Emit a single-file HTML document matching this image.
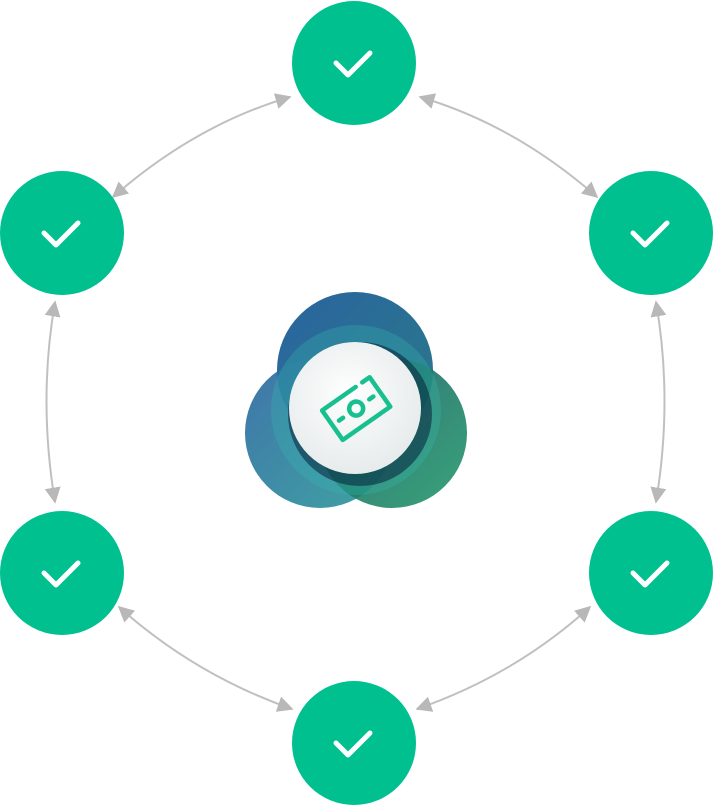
<!DOCTYPE html>
<html><head><style>html,body{margin:0;padding:0;background:#fff}svg{display:block}</style></head>
<body>
<svg width="713" height="805" viewBox="0 0 713 805" xmlns="http://www.w3.org/2000/svg">
<defs>
<marker id="m" viewBox="0 0 10 10" refX="9" refY="5" markerWidth="16" markerHeight="16" markerUnits="userSpaceOnUse" orient="auto-start-reverse">
<path d="M0,0 L10,5 L0,10 z" fill="#b8b8b8"/></marker>
<linearGradient id="g1" x1="0" y1="0" x2="1" y2="1"><stop offset="0" stop-color="#2a64a0"/><stop offset="1" stop-color="#2a7a88"/></linearGradient>
<linearGradient id="g2" x1="0" y1="0" x2="1" y2="1"><stop offset="0" stop-color="#2a64a0"/><stop offset="1" stop-color="#2a9a98"/></linearGradient>
<linearGradient id="g3" x1="0" y1="0" x2="1" y2="1"><stop offset="0" stop-color="#1a5a6a"/><stop offset="1" stop-color="#229a68"/></linearGradient>
<radialGradient id="w" cx="0.45" cy="0.4" r="0.6"><stop offset="0" stop-color="#ffffff"/><stop offset="1" stop-color="#e6ebeb"/></radialGradient>
</defs>
<g fill="none" stroke="#c0c0c0" stroke-width="2" marker-start="url(#m)" marker-end="url(#m)">
<path d="M113,197 Q195,125 290,97"/>
<path d="M420,97 Q515,125 597,197"/>
<path d="M55,302 Q38,400 55,502"/>
<path d="M656,302 Q673,400 656,502"/>
<path d="M119,607 Q195,675 292,709"/>
<path d="M590,607 Q515,675 417,709"/>
</g>
<g fill="#00c08f">
<circle cx="354" cy="63" r="62"/><circle cx="62" cy="233" r="62"/><circle cx="651" cy="233" r="62"/>
<circle cx="62" cy="573" r="62"/><circle cx="651" cy="573" r="62"/><circle cx="354" cy="743" r="62"/>
</g>
<g fill="none" stroke="#fff" stroke-width="5" stroke-linecap="round" stroke-linejoin="round">
<path d="M336,63 l12,12 l22,-22"/><path d="M44,233 l12,12 l22,-22"/><path d="M633,233 l12,12 l22,-22"/>
<path d="M44,573 l12,12 l22,-22"/><path d="M633,573 l12,12 l22,-22"/><path d="M336,743 l12,12 l22,-22"/>
</g>
<circle cx="355" cy="370" r="78" fill="url(#g1)"/>
<circle cx="320" cy="433" r="75" fill="url(#g2)" opacity="0.9"/>
<circle cx="392" cy="433" r="75" fill="url(#g3)" opacity="0.9"/>
<circle cx="356" cy="410" r="85" fill="#35b8b0" opacity="0.3"/>
<circle cx="360" cy="414" r="72" fill="#06203a" opacity="0.55"/>
<circle cx="355" cy="408" r="66" fill="url(#w)"/>
<g fill="none" stroke="#18c08f" stroke-width="4.5" stroke-linecap="round" stroke-linejoin="round" transform="rotate(-35 357 408)">
<path d="M376,390 h9 v36 h-58 v-36 h41"/>
<circle cx="356" cy="408" r="7"/>
<path d="M335,408 h5 M372,408 h5"/>
</g>
</svg>
</body></html>
